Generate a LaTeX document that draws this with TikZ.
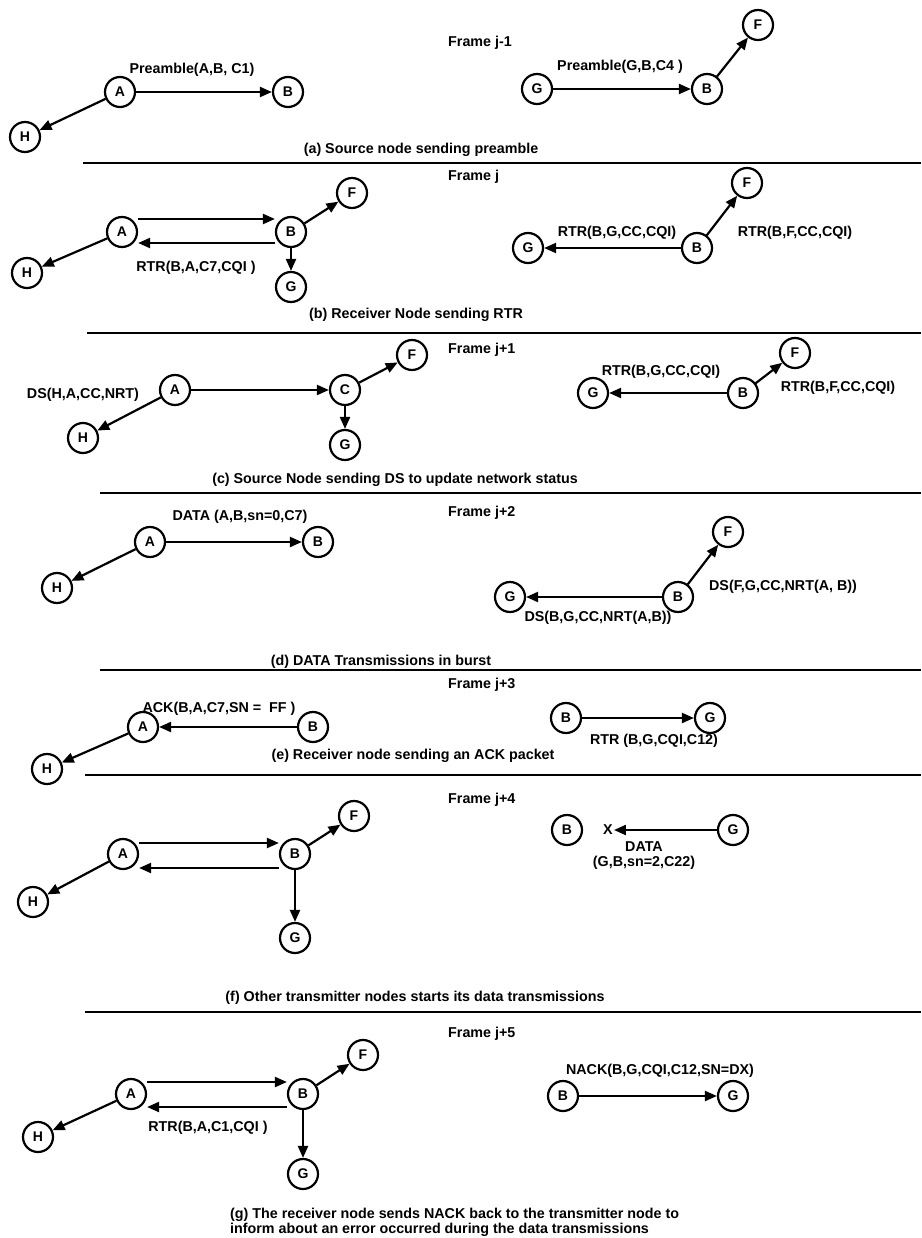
\documentclass[tikz,border=0pt]{standalone}
\usepackage{fontspec}
\setmainfont{Liberation Sans}
\usetikzlibrary{arrows.meta,positioning}

\begin{document}
\begin{tikzpicture}[
  x=1pt, y=-1pt,
  on grid,
  station/.style={circle, draw, line width=2.2pt, minimum size=30pt, inner sep=0pt, font=\fontsize{14}{15}\selectfont\bfseries},
  arrow/.style={-{Stealth[length=12pt, width=10pt, inset=0pt]}, line width=2.2pt},
  msg/.style={font=\fontsize{14.3}{15}\selectfont\bfseries, inner sep=0pt},
  framelbl/.style={msg, anchor=west},
  rule/.style={line width=2.2pt},
]
\useasboundingbox (0,0) rectangle (921,1238);

% (a) Frame j-1
\node[framelbl] (frm1) at (448,43) {Frame j-1};
\node[station] (a1) at (120,92) {A};
\node[station, right=168pt of a1] (b1) {B};
\node[station, below left=45pt and 95pt of a1] (h1) {H};
\node[msg, above right=22pt and 72pt of a1] (pre1) {Preamble(A,B, C1)};
\draw[arrow] (a1) -- (b1);
\draw[arrow] (a1) -- (h1);

\node[station] (g1r) at (537,89) {G};
\node[station, right=170pt of g1r] (b1r) {B};
\node[station, above right=64pt and 51pt of b1r] (f1r) {F};
\node[msg, above right=22pt and 83pt of g1r] (pre1r) {Preamble(G,B,C4 )};
\draw[arrow] (g1r) -- (b1r);
\draw[arrow] (b1r) -- (f1r);

\node[msg] (cap1) at (421,150) {(a) Source node sending preamble};
\draw[rule] (83,163) -- (921,163);

% (b) Frame j
\node[framelbl] (frm2) at (448,177) {Frame j};
\node[station] (a2) at (122,232) {A};
\node[station, right=169pt of a2] (b2) {B};
\node[station, above right=39pt and 61pt of b2] (f2) {F};
\node[station, below=55pt of b2] (g2) {G};
\node[station, below left=41pt and 95pt of a2] (h2) {H};
\draw[arrow] ([yshift=13pt]a2.east) -- ([yshift=13pt]b2.west);
\draw[arrow] ([yshift=-11pt]b2.west) -- ([yshift=-11pt]a2.east);
\draw[arrow] (b2) -- (f2);
\draw[arrow] (b2) -- (g2);
\draw[arrow] (a2) -- (h2);
\node[msg, below right=36pt and 74pt of a2] (rtr2) {RTR(B,A,C7,CQI )};

\node[station] (g2r) at (528,248) {G};
\node[station, right=169pt of g2r] (b2r) {B};
\node[station, above right=65pt and 50pt of b2r] (f2r) {F};
\draw[arrow] (b2r) -- (g2r);
\draw[arrow] (b2r) -- (f2r);
\node[msg, above right=15pt and 89pt of g2r] (rtr2g) {RTR(B,G,CC,CQI)};
\node[msg, above right=15pt and 98pt of b2r] (rtr2f) {RTR(B,F,CC,CQI)};

\node[msg] (cap2) at (416,315) {(b) Receiver Node sending RTR};
\draw[rule] (87,333) -- (921,333);

% (c) Frame j+1
\node[framelbl] (frm3) at (448,350) {Frame j+1};
\node[station] (a3) at (175,390) {A};
\node[station, right=170pt of a3] (c3) {C};
\node[station, above right=35pt and 67pt of c3] (f3) {F};
\node[station, below=55pt of c3] (g3) {G};
\node[station, below left=48pt and 92pt of a3] (h3) {H};
\node[msg, below left=5pt and 92pt of a3] (ds3) {DS(H,A,CC,NRT)};
\draw[arrow] (a3) -- (c3);
\draw[arrow] (c3) -- (f3);
\draw[arrow] (c3) -- (g3);
\draw[arrow] (a3) -- (h3);

\node[station] (g3r) at (593,393) {G};
\node[station, right=150pt of g3r] (b3r) {B};
\node[station, above right=40pt and 52pt of b3r] (f3r) {F};
\draw[arrow] (b3r) -- (g3r);
\draw[arrow] (b3r) -- (f3r);
\node[msg, above right=21pt and 68pt of g3r] (rtr3g) {RTR(B,G,CC,CQI)};
\node[msg, above right=5pt and 95pt of b3r] (rtr3f) {RTR(B,F,CC,CQI)};

\node[msg] (cap3) at (395,480) {(c) Source Node sending DS to update network status};
\draw[rule] (100,493) -- (921,493);

% (d) Frame j+2
\node[framelbl] (frm4) at (448,513) {Frame j+2};
\node[station] (a4) at (150,542) {A};
\node[station, right=168pt of a4] (b4) {B};
\node[station, below left=46pt and 93pt of a4] (h4) {H};
\node[msg, above right=25pt and 90pt of a4] (data4) {DATA (A,B,sn=0,C7)};
\draw[arrow] (a4) -- (b4);
\draw[arrow] (a4) -- (h4);

\node[station] (g4r) at (510,597) {G};
\node[station, right=168pt of g4r] (b4r) {B};
\node[station, above right=65pt and 50pt of b4r] (f4r) {F};
\draw[arrow] (b4r) -- (g4r);
\draw[arrow] (b4r) -- (f4r);
\node[msg, above right=10pt and 105pt of b4r] (ds4f) {DS(F,G,CC,NRT(A, B))};
\node[msg, below right=21pt and 88pt of g4r] (ds4g) {DS(B,G,CC,NRT(A,B))};

\node[msg] (cap4) at (381,662) {(d) DATA Transmissions in burst};
\draw[rule] (100,670) -- (921,670);

% (e) Frame j+3
\node[framelbl] (frm5) at (448,685) {Frame j+3};
\node[station] (a5) at (143,727) {A};
\node[station, right=170pt of a5] (b5) {B};
\node[station, below left=42pt and 96pt of a5] (h5) {H};
\node[msg, above right=18pt and 76pt of a5] (ack5) {ACK(B,A,C7,SN = \ FF )};
\draw[arrow] (b5) -- (a5);
\draw[arrow] (a5) -- (h5);

\node[station] (b5r) at (566,718) {B};
\node[station, right=144pt of b5r] (g5r) {G};
\draw[arrow] (b5r) -- (g5r);
\node[msg, below right=23pt and 88pt of b5r] (rtr5) {RTR (B,G,CQI,C12)};

\node[msg] (cap5) at (413,756) {(e) Receiver node sending an ACK packet};
\draw[rule] (85,775) -- (921,775);

% (f) Frame j+4
\node[framelbl] (frm6) at (448,800) {Frame j+4};
\node[station] (a6) at (123,854) {A};
\node[station, right=172pt of a6] (b6) {B};
\node[station, above right=38pt and 59pt of b6] (f6) {F};
\node[station, below=84pt of b6] (g6) {G};
\node[station, below left=48pt and 90pt of a6] (h6) {H};
\draw[arrow] ([yshift=11pt]a6.east) -- ([yshift=11pt]b6.west);
\draw[arrow] ([yshift=-14pt]b6.west) -- ([yshift=-14pt]a6.east);
\draw[arrow] (b6) -- (f6);
\draw[arrow] (b6) -- (g6);
\draw[arrow] (a6) -- (h6);

\node[station] (b6r) at (567,830) {B};
\node[station, right=166pt of b6r] (g6r) {G};
\node[msg, right=41pt of b6r, inner sep=1pt] (lost6) {X};
\draw[arrow] (g6r) -- (lost6);
\node[msg, below right=17pt and 77pt of b6r] (data6) {DATA};
\node[msg, below=16pt of data6] (data6b) {(G,B,sn=2,C22)};

\node[msg] (cap6) at (415,998) {(f) Other transmitter nodes starts its data transmissions};
\draw[rule] (85,1012) -- (921,1012);

% (g) Frame j+5
\node[framelbl] (frm7) at (448,1034) {Frame j+5};
\node[station] (a7) at (131,1094) {A};
\node[station, right=172pt of a7] (b7) {B};
\node[station, above right=39pt and 60pt of b7] (f7) {F};
\node[station, below=80pt of b7] (g7) {G};
\node[station, below left=43pt and 93pt of a7] (h7) {H};
\draw[arrow] ([yshift=12pt]a7.east) -- ([yshift=12pt]b7.west);
\draw[arrow] ([yshift=-13pt]b7.west) -- ([yshift=-13pt]a7.east);
\draw[arrow] (b7) -- (f7);
\draw[arrow] (b7) -- (g7);
\draw[arrow] (a7) -- (h7);
\node[msg, below right=34pt and 77pt of a7] (rtr7) {RTR(B,A,C1,CQI )};

\node[station] (b7r) at (563,1096) {B};
\node[station, right=170pt of b7r] (g7r) {G};
\draw[arrow] (b7r) -- (g7r);
\node[msg, above right=25pt and 97pt of b7r] (nack7) {NACK(B,G,CQI,C12,SN=DX)};

\node[msg, anchor=north west, align=left] (cap7) at (230,1208)
  {(g) The receiver node sends NACK back to the transmitter node to\\inform about an error occurred during the data transmissions};

\end{tikzpicture}
\end{document}
